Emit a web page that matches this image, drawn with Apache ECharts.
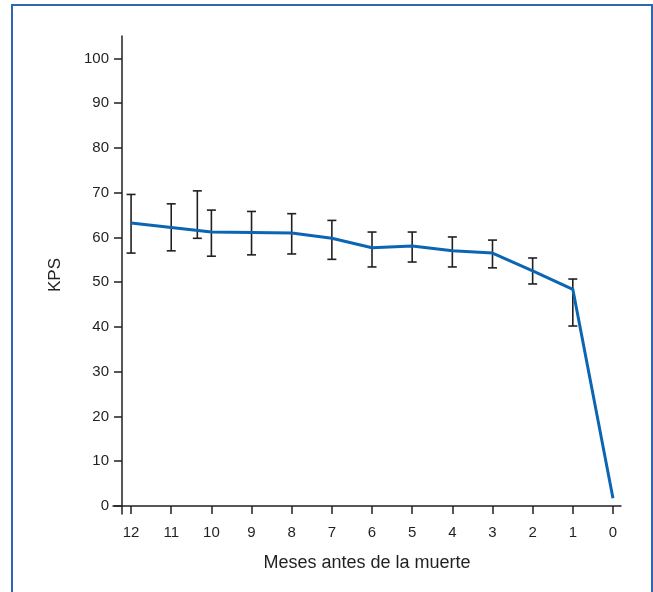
<!DOCTYPE html>
<html>
<head>
<meta charset="utf-8">
<script src="https://cdn.jsdelivr.net/npm/echarts@6/dist/echarts.min.js"></script>
<style>
html,body{margin:0;padding:0;background:#fff;}
#c{width:653px;height:592px;}
</style>
</head>
<body>
<div id="c"></div>
<script>
// Data
var lineMonths = [12, 11, 10, 9, 8, 7, 6, 5, 4, 3, 2, 1, 0];
var kpsMean = [63.2, 62.2, 61.2, 61.1, 61.0, 59.8, 57.7, 58.1, 57.0, 56.5, 52.5, 48.4, 1.7];
var errMonths = [12, 11, 10.35, 10, 9, 8, 7, 6, 5, 4, 3, 2, 1];
var errHigh = [69.6, 67.5, 70.4, 66.1, 65.8, 65.3, 63.8, 61.2, 61.2, 60.1, 59.4, 55.4, 50.7];
var errLow = [56.5, 57.0, 59.8, 55.8, 56.1, 56.3, 55.1, 53.4, 54.5, 53.4, 53.2, 49.6, 40.2];
var xTicks = [0, 1, 2, 3, 4, 5, 6, 7, 8, 9, 10, 11, 12];
var yTicks = [0, 10, 20, 30, 40, 50, 60, 70, 80, 90, 100];

var ink = '#231f20';
var font = 'Liberation Sans, Arial, Helvetica, sans-serif';

var lineData = lineMonths.map(function (m, i) { return [m, kpsMean[i]]; });
var errData = errMonths.map(function (m, i) { return [m, errLow[i], errHigh[i]]; });

var chart = echarts.init(document.getElementById('c'));
chart.setOption({
  animation: false,
  backgroundColor: '#fff',
  graphic: [{
    type: 'rect',
    shape: { x: 12, y: 5, width: 640, height: 620 },
    style: { fill: 'none', stroke: '#2f68b2', lineWidth: 2 },
    z: 100
  }],
  grid: { left: 113, right: 32, top: 36, bottom: 78 },
  xAxis: {
    type: 'value',
    inverse: true,
    min: -0.2,
    max: 12.45,
    name: 'Meses antes de la muerte',
    nameLocation: 'middle',
    nameGap: 40,
    nameTextStyle: { fontFamily: font, fontSize: 18, color: ink },
    axisLine: { onZero: true, lineStyle: { color: ink, width: 1.5 } },
    axisTick: { show: true, length: 8, customValues: xTicks, lineStyle: { color: ink, width: 1.5 } },
    axisLabel: { customValues: xTicks, margin: 11, fontFamily: font, fontSize: 15, color: ink },
    splitLine: { show: false }
  },
  yAxis: {
    type: 'value',
    min: -1.8,
    max: 105,
    offset: -9,
    name: 'KPS',
    nameLocation: 'middle',
    nameGap: 58,
    nameRotate: 90,
    nameTextStyle: { fontFamily: font, fontSize: 17, color: ink },
    axisLine: { show: true, onZero: false, lineStyle: { color: ink, width: 1.5 } },
    axisTick: { show: true, length: 8, customValues: yTicks, lineStyle: { color: ink, width: 1.5 } },
    axisLabel: { customValues: yTicks, margin: 13, fontFamily: font, fontSize: 15, color: ink },
    splitLine: { show: false }
  },
  series: [
    {
      type: 'custom',
      data: errData,
      z: 2,
      renderItem: function (params, api) {
        var x = api.value(0);
        var lo = api.coord([x, api.value(1)]);
        var hi = api.coord([x, api.value(2)]);
        var hw = 4.5;
        var st = { stroke: ink, lineWidth: 1.6, fill: 'none' };
        return {
          type: 'group',
          children: [
            { type: 'line', shape: { x1: hi[0], y1: hi[1], x2: lo[0], y2: lo[1] }, style: st },
            { type: 'line', shape: { x1: hi[0] - hw, y1: hi[1], x2: hi[0] + hw, y2: hi[1] }, style: st },
            { type: 'line', shape: { x1: lo[0] - hw, y1: lo[1], x2: lo[0] + hw, y2: lo[1] }, style: st }
          ]
        };
      }
    },
    {
      type: 'line',
      data: lineData,
      z: 3,
      showSymbol: false,
      symbol: 'none',
      lineStyle: { color: '#0a66b2', width: 3 }
    }
  ]
});
</script>
</body>
</html>
